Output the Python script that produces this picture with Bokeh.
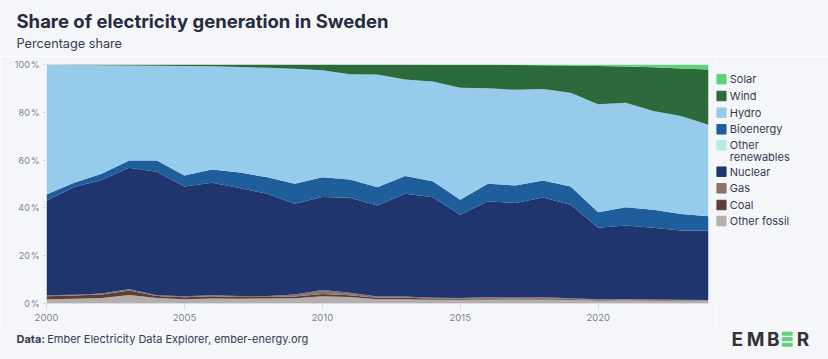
from bokeh.plotting import figure
from bokeh.models import ColumnDataSource, FixedTicker, Range1d
from bokeh.layouts import column, row
from bokeh.core.properties import value
from bokeh.embed import file_html
from bokeh.resources import INLINE

years = list(range(2000, 2025))
other_fossil = [1.8, 2.0, 2.3, 3.6, 2.3, 1.8, 2.1, 2.0, 2.1, 2.2, 3.0, 2.7, 1.8, 1.8, 1.6, 1.6, 1.7, 1.7, 1.7, 1.6, 1.3, 1.4, 1.3, 1.2, 1.1]
coal = [1.2, 1.3, 1.5, 1.8, 0.8, 0.8, 0.9, 0.7, 0.6, 0.7, 1.0, 0.8, 0.6, 0.6, 0.5, 0.4, 0.5, 0.4, 0.5, 0.3, 0.2, 0.2, 0.2, 0.2, 0.2]
gas = [0.4, 0.4, 0.4, 0.6, 0.3, 0.4, 0.5, 0.4, 0.4, 0.9, 1.6, 1.0, 0.5, 0.5, 0.3, 0.3, 0.4, 0.4, 0.4, 0.3, 0.3, 0.3, 0.2, 0.2, 0.2]
nuclear = [39.6, 45.0, 47.5, 50.8, 51.7, 46.0, 47.0, 45.2, 42.8, 37.9, 39.0, 39.7, 38.1, 43.0, 42.1, 34.8, 40.2, 39.5, 41.8, 39.1, 29.9, 30.7, 30.0, 28.9, 28.9]
other_renewables = [0.0] * 25
bioenergy = [2.6, 1.8, 2.6, 3.0, 4.7, 4.6, 5.6, 6.5, 6.9, 8.4, 8.2, 7.7, 7.6, 7.4, 6.7, 6.3, 7.3, 7.4, 7.1, 7.7, 6.5, 7.7, 7.5, 7.0, 6.1]
hydro = [54.3, 49.3, 45.4, 39.8, 39.7, 45.8, 43.2, 44.2, 45.8, 48.1, 44.8, 44.0, 47.2, 40.4, 41.7, 46.9, 40.0, 40.0, 38.3, 39.2, 45.2, 43.7, 41.3, 41.0, 38.3]
wind = [0.1, 0.2, 0.3, 0.4, 0.5, 0.6, 0.7, 1.0, 1.4, 1.8, 2.4, 4.1, 4.2, 6.3, 7.0, 9.6, 9.8, 10.4, 9.9, 11.4, 16.0, 15.2, 18.3, 19.8, 23.1]
solar = [0.0, 0.0, 0.0, 0.0, 0.0, 0.0, 0.0, 0.0, 0.0, 0.0, 0.0, 0.0, 0.0, 0.0, 0.05, 0.1, 0.1, 0.2, 0.3, 0.4, 0.6, 0.8, 1.2, 1.7, 2.1]

series_keys = ["other_fossil", "coal", "gas", "nuclear", "other_renewables", "bioenergy", "hydro", "wind", "solar"]
series_labels = ["Other fossil", "Coal", "Gas", "Nuclear", "Other renewables", "Bioenergy", "Hydro", "Wind", "Solar"]
series_colors = ["#b5aeab", "#5b3f37", "#86766f", "#20356d", "#b5eae8", "#1e5f9b", "#96cbeb", "#2d6a3b", "#5fd27b"]
y_ticks = [0, 20, 40, 60, 80, 100]
x_ticks = [2000, 2005, 2010, 2015, 2020]

title_text = "Share of electricity generation in Sweden"
subtitle_text = "Percentage share"
source_bold = "Data:"
source_text = "Ember Electricity Data Explorer, ember-energy.org"

BG = "#f5f6fa"
FONT = "Inter"
TXT = "#343b4f"
TICK_TXT = "#7c8295"
W = 828          # Bokeh's page template has no body margin
MAIN_W = 716
MID_H = 272
FRAME_TOP, FRAME_BOTTOM = 64, 303   # page y of the plot frame


def blank(width, height, y0=0, y1=None, **kw):
    f = figure(width=width, height=height, output_backend="svg", toolbar_location=None,
               x_range=Range1d(0, width), y_range=Range1d(y1 if y1 is not None else height, y0),
               x_axis_type=None, y_axis_type=None, **kw)
    f.background_fill_color = BG
    f.border_fill_color = BG
    f.outline_line_color = None
    f.xgrid.visible = False
    f.ygrid.visible = False
    return f


# ---------- header ----------
header = blank(W, 56, min_border=0)
header.text(x=[16], y=[20.2], text=[title_text], text_font=value(FONT), text_font_size="18.5px",
            text_font_style="bold", text_color="#252c3f", text_baseline="middle")
header.text(x=[16], y=[43.2], text=[subtitle_text], text_font=value(FONT), text_font_size="12.7px",
            text_color=TXT, text_baseline="middle")

# ---------- main chart ----------
source = ColumnDataSource(dict(year=years, other_fossil=other_fossil, coal=coal, gas=gas, nuclear=nuclear,
                               other_renewables=other_renewables, bioenergy=bioenergy, hydro=hydro,
                               wind=wind, solar=solar))

p = figure(width=MAIN_W, height=MID_H, output_backend="svg", toolbar_location=None,
           x_range=Range1d(2000, 2024), y_range=Range1d(0, 100),
           min_border_left=46, min_border_right=8, min_border_top=8, min_border_bottom=25)
p.background_fill_color = BG
p.border_fill_color = BG
p.outline_line_color = None
p.xgrid.visible = False
p.ygrid.visible = False

p.varea_stack(stackers=series_keys, x="year", color=series_colors, source=source)

p.xaxis.ticker = FixedTicker(ticks=x_ticks)
p.xaxis.axis_line_color = "#d6dbe9"
p.xaxis.major_tick_line_color = "#d6dbe9"
p.xaxis.major_tick_out = 6
p.xaxis.major_tick_in = 0
p.xaxis.minor_tick_line_color = None
p.xaxis.major_label_text_font = FONT
p.xaxis.major_label_text_font_size = "9.5px"
p.xaxis.major_label_text_color = TICK_TXT
p.xaxis.major_label_standoff = 4

p.yaxis.ticker = FixedTicker(ticks=y_ticks)
p.yaxis.major_label_overrides = {t: f"{t}\u200a%" for t in y_ticks}
p.yaxis.axis_line_color = None
p.yaxis.major_tick_line_color = "#d6dbe9"
p.yaxis.major_tick_out = 4
p.yaxis.major_tick_in = 0
p.yaxis.minor_tick_line_color = None
p.yaxis.major_label_text_font = FONT
p.yaxis.major_label_text_font_size = "9px"
p.yaxis.major_label_text_color = TICK_TXT
p.yaxis.major_label_standoff = 3

# ---------- legend (top of stack first); its frame is aligned with the chart frame ----------
leg = blank(W - MAIN_W, MID_H, y0=FRAME_TOP, y1=FRAME_BOTTOM,
            min_border_left=0, min_border_right=0, min_border_top=8, min_border_bottom=25)
leg_colors = series_colors[::-1]
leg_labels = series_labels[::-1]
row_y = [78.7, 95.5, 112.2, 128.8, 144.8, 171.2, 187.8, 204.5, 220.5]
leg.rect(x=[4.8] * len(leg_colors), y=row_y, width=9.5, height=9.5, color=leg_colors)
lines_x, lines_y, lines_t = [], [], []
for lab, yy in zip(leg_labels, row_y):
    if lab == "Other renewables":
        lines_x += [13.3, 13.3]
        lines_y += [yy, yy + 11.3]
        lines_t += ["Other", "renewables"]
    else:
        lines_x.append(13.3)
        lines_y.append(yy)
        lines_t.append(lab)
leg.text(x=lines_x, y=lines_y, text=lines_t, text_font=value(FONT), text_font_size="11px",
         text_color=TXT, text_baseline="middle")

# ---------- footer ----------
FOOT_TOP = 56 + MID_H
footer = blank(W, 359 - FOOT_TOP, min_border=0)
footer.text(x=[16], y=[338.8 - FOOT_TOP], text=[source_bold], text_font=value(FONT), text_font_size="11px",
            text_font_style="bold", text_color=TXT, text_baseline="middle")
footer.text(x=[46.7], y=[338.8 - FOOT_TOP], text=[source_text], text_font=value(FONT), text_font_size="11px",
            text_color=TXT, text_baseline="middle")
logo_letters = ["E", "M", "B", "R"]
logo_x = [736.8, 755.0, 772.7, 802.5]
footer.text(x=logo_x, y=[339.0 - FOOT_TOP] * 4, text=logo_letters, text_font=value(FONT), text_font_size="19px",
            text_font_style="bold", text_color="#333333", text_align="center", text_baseline="middle")
# the green three-bar "E" of the logo
footer.rect(x=[786.7] * 3, y=[333.2 - FOOT_TOP, 338.7 - FOOT_TOP, 344.2 - FOOT_TOP], width=10, height=3,
            color="#5fd27b")

layout = column(header, row(p, leg), footer)
open("out.html", "w").write(file_html(layout, INLINE))
